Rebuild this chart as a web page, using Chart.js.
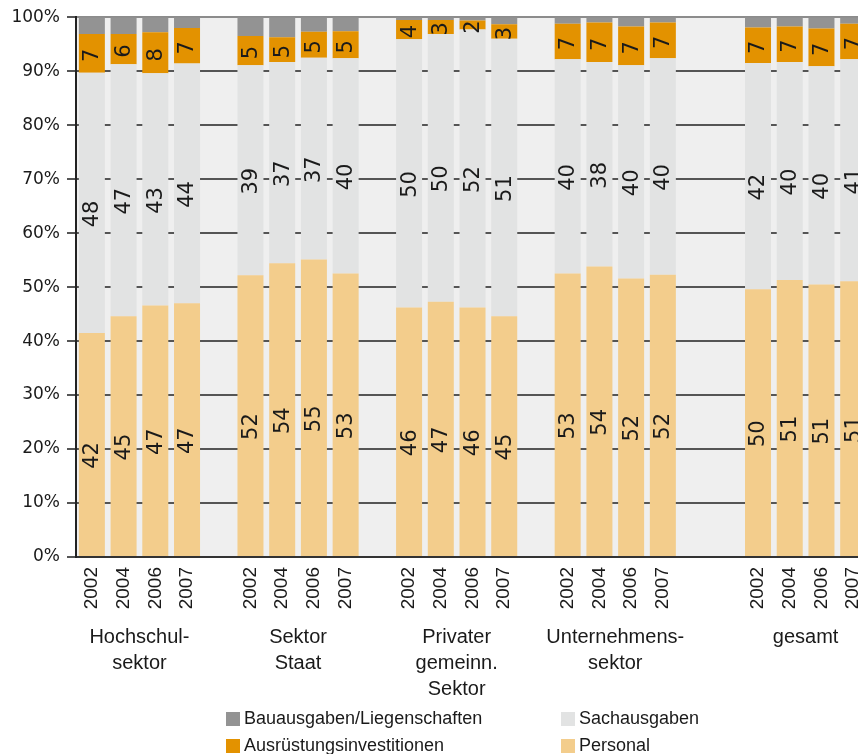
<!DOCTYPE html>
<html>
<head>
<meta charset="utf-8">
<script src="https://cdn.jsdelivr.net/npm/chart.js@4.4.1/dist/chart.umd.min.js"></script>
<style>
  html, body { margin: 0; padding: 0; background: #fff; overflow: hidden; }
  #wrap { width: 858px; height: 754px; overflow: hidden; }
</style>
</head>
<body>
<div id="wrap"><canvas id="chart" width="886" height="754"></canvas></div>
<script>
// data, one row per sector, columns = years
const years = ['2002', '2004', '2006', '2007'];
const sectors = [['Hochschul-', 'sektor'], ['Sektor', 'Staat'], ['Privater', 'gemeinn.', 'Sektor'], ['Unternehmens-', 'sektor'], ['gesamt']];
const emptySlotsAfter = [1, 1, 1, 2, 0];

const personal     = [[41.5, 44.6, 46.6, 47.0], [52.2, 54.4, 55.1, 52.5], [46.2, 47.3, 46.2, 44.6], [52.5, 53.8, 51.6, 52.3], [49.6, 51.3, 50.5, 51.1]];
const sachausgaben = [[48.2, 46.7, 43.0, 44.4], [38.9, 37.3, 37.4, 39.9], [49.7, 49.6, 51.5, 51.4], [39.7, 37.9, 39.5, 40.1], [41.9, 40.4, 40.4, 41.1]];
const ausruestung  = [[7.2, 5.6, 7.6, 6.6], [5.4, 4.6, 4.8, 5.0], [3.6, 2.6, 1.7, 2.7], [6.6, 7.3, 7.2, 6.6], [6.6, 6.6, 7.0, 6.6]];
const bauausgaben  = [[3.1, 3.1, 2.8, 2.0], [3.5, 3.7, 2.7, 2.6], [0.5, 0.5, 0.6, 1.3], [1.2, 1.0, 1.7, 1.0], [1.9, 1.7, 2.1, 1.2]];

const yTicks = [0, 10, 20, 30, 40, 50, 60, 70, 80, 90, 100];

// put the groups one after another, with empty slots between them
function flatten(groups) {
  const out = [];
  groups.forEach((g, i) => {
    out.push(...g);
    for (let k = 0; k < emptySlotsAfter[i]; k++) out.push(null);
  });
  return out;
}

const labels = flatten(sectors.map(() => years)).map(l => l === null ? '' : l);
const groupStart = [];
{
  let pos = 0;
  sectors.forEach((s, i) => { groupStart.push(pos); pos += years.length + emptySlotsAfter[i]; });
}

const textColor = '#1a1a1a';
const sansFont = "'Liberation Sans', Arial, sans-serif";
const numFont = "'DejaVu Sans', sans-serif";

const plotBg = {
  id: 'plotBg',
  beforeDraw(chart) {
    const { ctx, chartArea: a } = chart;
    ctx.save();
    ctx.fillStyle = '#efefef';
    ctx.fillRect(a.left, a.top, a.right - a.left, a.bottom - a.top);
    ctx.restore();
  }
};

const barLabels = {
  id: 'barLabels',
  afterDatasetsDraw(chart) {
    const ctx = chart.ctx;
    ctx.save();
    ctx.fillStyle = textColor;
    ctx.font = '21px ' + numFont;
    ctx.textAlign = 'center';
    ctx.textBaseline = 'middle';
    [0, 1, 2].forEach(di => {
      const meta = chart.getDatasetMeta(di);
      const data = chart.data.datasets[di].data;
      meta.data.forEach((bar, i) => {
        const v = data[i];
        if (v === null || v === undefined) return;
        const h = Math.abs(bar.base - bar.y);
        const cy = (bar.y + bar.base) / 2 + (h > 60 ? 11 : 2);
        ctx.save();
        ctx.translate(bar.x + 1, cy);
        ctx.rotate(-Math.PI / 2);
        ctx.fillText(String(Math.round(v)), 0, 0);
        ctx.restore();
      });
    });
    ctx.restore();
  }
};

const groupLabels = {
  id: 'groupLabels',
  afterDraw(chart) {
    const ctx = chart.ctx;
    const x = chart.scales.x;
    ctx.save();
    ctx.fillStyle = textColor;
    ctx.font = '20px ' + sansFont;
    ctx.textAlign = 'center';
    ctx.textBaseline = 'middle';
    sectors.forEach((lines, i) => {
      const cx = (x.getPixelForValue(groupStart[i]) + x.getPixelForValue(groupStart[i] + years.length - 1)) / 2;
      lines.forEach((t, k) => ctx.fillText(t, cx, 637 + k * 26));
    });

    // legend, two columns
    const order = [[3, 226, 719], [1, 561, 719], [2, 226, 746], [0, 561, 746]];
    ctx.font = '18px ' + sansFont;
    ctx.textAlign = 'left';
    order.forEach(([di, lx, ly]) => {
      const ds = chart.data.datasets[di];
      ctx.fillStyle = ds.backgroundColor;
      ctx.fillRect(lx, ly - 7, 14, 14);
      ctx.fillStyle = textColor;
      ctx.fillText(ds.label, lx + 18, ly);
    });
    ctx.restore();
  }
};

new Chart(document.getElementById('chart'), {
  type: 'bar',
  data: {
    labels: labels,
    datasets: [
      { label: 'Personal', data: flatten(personal), backgroundColor: '#f3cd8c' },
      { label: 'Sachausgaben', data: flatten(sachausgaben), backgroundColor: '#e2e3e3' },
      { label: 'Ausrüstungsinvestitionen', data: flatten(ausruestung), backgroundColor: '#e39200' },
      { label: 'Bauausgaben/Liegenschaften', data: flatten(bauausgaben), backgroundColor: '#939393' }
    ]
  },
  options: {
    responsive: false,
    animation: false,
    devicePixelRatio: 1,
    layout: { padding: { top: 17, right: 1, bottom: 137, left: 0 } },
    datasets: { bar: { barPercentage: 0.82, categoryPercentage: 1, borderWidth: 0 } },
    plugins: { legend: { display: false }, tooltip: { enabled: false } },
    scales: {
      x: {
        stacked: true,
        grid: { display: false, drawTicks: false },
        border: { display: true, color: '#333', width: 2 },
        ticks: {
          autoSkip: false, minRotation: 90, maxRotation: 90, padding: 10,
          color: textColor, font: { family: sansFont, size: 19 }
        },
        afterFit(scale) { scale.height = 60; }
      },
      y: {
        stacked: true,
        min: 0, max: 100,
        afterBuildTicks(scale) { scale.ticks = yTicks.map(v => ({ value: v })); },
        grid: {
          color: ctx => ctx.tick && ctx.tick.value === 100 ? '#8c8c8c' : '#555',
          lineWidth: 2, tickLength: 9, tickColor: '#555', tickWidth: 2
        },
        border: { display: true, color: '#222', width: 2 },
        ticks: {
          padding: 7, color: textColor, font: { family: numFont, size: 17 },
          callback: v => v + '%'
        },
        afterFit(scale) { scale.width = 76; }
      }
    }
  },
  plugins: [plotBg, barLabels, groupLabels]
});
</script>
</body>
</html>
